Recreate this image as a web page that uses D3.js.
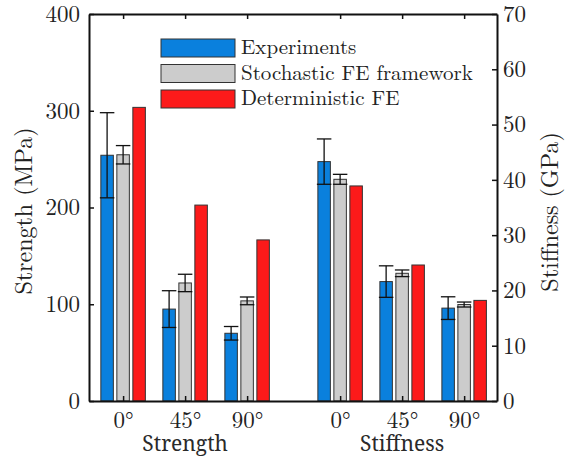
<!DOCTYPE html>
<html>
<head>
<meta charset="utf-8">
<script src="https://cdn.jsdelivr.net/npm/d3@7"></script>
<style>
  body { margin: 0; background: #fff; }
</style>
</head>
<body>
<div id="chart"></div>
<script>
// categories
const angles = ['0°', '45°', '90°'];
const groups = ['Strength', 'Stiffness'];
const seriesNames = ['Experiments', 'Stochastic FE framework', 'Deterministic FE'];
const seriesColors = ['#0a80dd', '#cccccc', '#fc1a1a'];

// strength (MPa): mean and error per angle
const strengthExp = [254, 95, 70];
const strengthExpErr = [44, 19, 7];
const strengthSto = [254.5, 122, 103.5];
const strengthStoErr = [9.5, 9, 4];
const strengthDet = [303.5, 202.5, 166.5];

// stiffness (GPa)
const stiffExp = [43.3, 21.6, 16.8];
const stiffExpErr = [4.1, 2.85, 2.05];
const stiffSto = [40.1, 23.1, 17.45];
const stiffStoErr = [0.9, 0.6, 0.45];
const stiffDet = [38.9, 24.6, 18.2];

const strengthTicks = [0, 100, 200, 300, 400];
const stiffTicks = [0, 10, 20, 30, 40, 50, 60, 70];

const W = 567, H = 456;
const plot = {left: 89, right: 497, top: 14, bottom: 401};
const lm = 'Latin Modern Roman';

const svg = d3.select('#chart').append('svg')
    .attr('width', W).attr('height', H);

// category positions: strength group 1..3, stiffness group 4.5..6.5
const groupPos = [[1, 2, 3], [4.5, 5.5, 6.5]];
const x = d3.scaleLinear().domain([0.45, 7.03]).range([plot.left, plot.right]);
const yL = d3.scaleLinear().domain([0, 400]).range([plot.bottom, plot.top]);
const yR = d3.scaleLinear().domain([0, 70]).range([plot.bottom, plot.top]);

const barW = 12.5, stride = 16;

// build bar records from the arrays
const bars = [];
const strengthSeries = [[strengthExp, strengthExpErr], [strengthSto, strengthStoErr], [strengthDet, null]];
const stiffSeries = [[stiffExp, stiffExpErr], [stiffSto, stiffStoErr], [stiffDet, null]];
[strengthSeries, stiffSeries].forEach((ser, g) => {
    const y = g === 0 ? yL : yR;
    ser.forEach(([vals, errs], s) => {
        vals.forEach((v, i) => {
            bars.push({
                cx: x(groupPos[g][i]) + (s - 1) * stride,
                v, err: errs ? errs[i] : null, y, s
            });
        });
    });
});

svg.append('g').selectAll('rect').data(bars).join('rect')
    .attr('x', d => d.cx - barW / 2)
    .attr('y', d => d.y(d.v))
    .attr('width', barW)
    .attr('height', d => plot.bottom - d.y(d.v))
    .attr('fill', d => seriesColors[d.s])
    .attr('stroke', '#333')
    .attr('stroke-width', 1);

// error bars
const eb = svg.append('g').attr('stroke', '#111').attr('stroke-width', 1.3);
bars.filter(d => d.err != null).forEach(d => {
    const hi = d.y(d.v + d.err), lo = d.y(d.v - d.err);
    const hw = barW / 2 + 1;
    eb.append('line').attr('x1', d.cx).attr('x2', d.cx).attr('y1', hi).attr('y2', lo);
    eb.append('line').attr('x1', d.cx - hw).attr('x2', d.cx + hw).attr('y1', hi).attr('y2', hi);
    eb.append('line').attr('x1', d.cx - hw).attr('x2', d.cx + hw).attr('y1', lo).attr('y2', lo);
});

// axes
const allPos = groupPos.flat();

const leftAxis = svg.append('g').attr('transform', `translate(${plot.left},0)`)
    .call(d3.axisLeft(yL).tickValues(strengthTicks).tickSizeInner(-5).tickSizeOuter(0).tickPadding(9));
const rightAxis = svg.append('g').attr('transform', `translate(${plot.right},0)`)
    .call(d3.axisRight(yR).tickValues(stiffTicks).tickSizeInner(-5).tickSizeOuter(0).tickPadding(6));
const bottomAxis = svg.append('g').attr('transform', `translate(0,${plot.bottom})`)
    .call(d3.axisBottom(x).tickValues(allPos).tickSizeInner(-5).tickSizeOuter(0).tickPadding(11)
        .tickFormat((d, i) => angles[i % 3]));
const topAxis = svg.append('g').attr('transform', `translate(0,${plot.top})`)
    .call(d3.axisTop(x).tickValues(allPos).tickSizeInner(-5).tickSizeOuter(0).tickFormat(''));

[leftAxis, rightAxis, bottomAxis, topAxis].forEach(a => {
    a.attr('font-family', lm).attr('font-size', 23);
    a.select('.domain').attr('stroke', '#111').attr('stroke-width', 2);
    a.selectAll('.tick line').attr('stroke', '#111').attr('stroke-width', 1.5);
    a.selectAll('text').attr('fill', '#222');
});

// axis titles
svg.append('text')
    .attr('transform', `translate(32,211) rotate(-90)`)
    .attr('text-anchor', 'middle')
    .attr('font-family', lm).attr('font-size', 24).attr('fill', '#222')
    .text('Strength (MPa)');
svg.append('text')
    .attr('transform', `translate(558,212) rotate(-90)`)
    .attr('text-anchor', 'middle')
    .attr('font-family', lm).attr('font-size', 24).attr('fill', '#222')
    .text('Stiffness (GPa)');

groups.forEach((g, k) => {
    svg.append('text')
        .attr('x', x(groupPos[k][1]))
        .attr('y', 451)
        .attr('text-anchor', 'middle')
        .attr('font-family', 'Noto Serif').attr('font-size', 21).attr('fill', '#2a2a2a')
        .text(g);
});

// legend
const legend = svg.append('g').attr('transform', 'translate(161,39)');
seriesNames.forEach((name, i) => {
    const row = legend.append('g').attr('transform', `translate(0,${i * 25.5})`);
    row.append('rect').attr('width', 74).attr('height', 18)
        .attr('fill', seriesColors[i]).attr('stroke', '#333').attr('stroke-width', 1);
    row.append('text').attr('x', 80).attr('y', 15)
        .attr('font-family', lm).attr('font-size', 21).attr('fill', '#222')
        .text(name);
});
</script>
</body>
</html>
